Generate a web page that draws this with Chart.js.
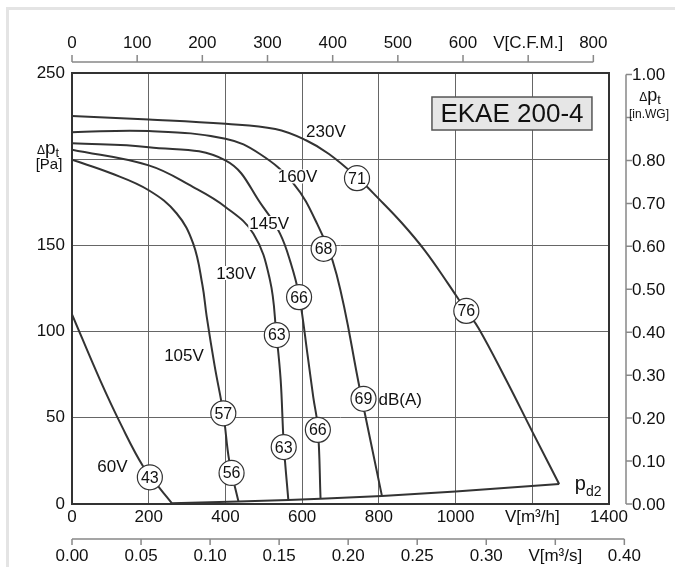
<!DOCTYPE html>
<html><head><meta charset="utf-8">
<script src="https://cdn.jsdelivr.net/npm/chart.js@4"></script>
<style>html,body{margin:0;padding:0;background:#fff;}#c{display:block;}</style>
</head><body>
<canvas id="c" width="675" height="567"></canvas>
<script>
// ---- data ----
const flow230 = [0,200,400,530,610,670,743,800,860,920,980,1028,1060,1133,1200,1270];
const dp230   = [225,223,220.5,217.5,211,203,189.5,177,163,147,128,112,102,71.5,42,11.6];
const flow160 = [0,200,400,490,577,638,690,751,808];
const dp160   = [215.7,216.3,211.9,203,186,163,133,66,4.7];
const flow145 = [0,200,400,499,542,570,592,615,629,641,648];
const dp145   = [209.3,207,199.3,172,157,140,121,85,62,44,3.0];
const flow130 = [0,200,316,400,473,516,533,544,552,564];
const dp130   = [205.5,196.4,183.8,172.3,156.8,130,98,72,35,2.3];
const flow105 = [0,100,200,273,316,340,351,372,394.5,410,434];
const dp105   = [199.7,192,182,168.5,151,127,109,80,52.6,25,1.4];
const flow60  = [0,73,130,186,229,260];
const dp60    = [110,72,45,21.6,9.1,0.5];
const flowPd2 = [260,434,564,648,808,1000,1270];
const dpPd2   = [0.5,1.4,2.3,3.0,4.7,7.2,11.6];

const dbFlow = [743,656,592,534,394.5,1028,760,641,552,416,203];
const dbDp   = [189,148,120,98,52.6,112,61,43,33,18,15.5];
const dbText = ['71','68','66','63','57','76','69','66','63','56','43'];

const voltText = ['230V','160V','145V','130V','105V','60V'];
const voltFlow = [662,588,514,427.5,292,105.5];
const voltDp   = [216,190,163,134,86.5,21.6];

const xTickValues   = [0,200,400,600,800,1000,1200,1400];
const yTickValues   = [0,50,100,150,200,250];
const cfmTicks      = [0,100,200,300,400,500,600,700,800];
const m3sTicks      = [0,0.05,0.10,0.15,0.20,0.25,0.30,0.35,0.40];
const inwgTicks     = [0,0.1,0.2,0.3,0.4,0.5,0.6,0.7,0.8,0.9,1.0];
const M3H_PER_CFM = 1.699;
const PA_PER_INWG = 249.09;
const M3H_PER_M3S = 3600;

// ---- helpers ----
const FONT = "'Liberation Sans', Arial, Helvetica, sans-serif";
const TXT = '#111';
const LINE = '#333';
const pts = (xs, ys) => xs.map((x, i) => ({x, y: ys[i]}));
const curve = (xs, ys) => ({
  data: pts(xs, ys), showLine: true, borderColor: LINE, borderWidth: 2,
  pointRadius: 0, tension: 0.4, fill: false, order: 1
});

function subText(ctx, x, y, parts, align) {
  let total = 0;
  parts.forEach(p => { ctx.font = p[1] + 'px ' + FONT; total += ctx.measureText(p[0]).width; });
  let cx = align === 'center' ? x - total / 2 : x;
  ctx.textAlign = 'left'; ctx.textBaseline = 'alphabetic';
  parts.forEach(p => { ctx.font = p[1] + 'px ' + FONT; ctx.fillText(p[0], cx, y + (p[2] || 0)); cx += ctx.measureText(p[0]).width; });
}

const deco = {
  id: 'deco',
  beforeDraw(chart) {
    const ctx = chart.ctx;
    ctx.save();
    ctx.fillStyle = '#fff'; ctx.fillRect(0, 0, chart.width, chart.height);
    ctx.fillStyle = '#e4e4e4';
    ctx.fillRect(6, 7, chart.width - 6, 3);
    ctx.fillRect(6, 7, 3, chart.height - 7);
    ctx.restore();
  },
  afterDatasetsDraw(chart) {
    const ctx = chart.ctx, xs = chart.scales.x, ys = chart.scales.y;
    ctx.save();
    ctx.font = '17px ' + FONT;
    voltText.forEach((t, i) => {
      const px = xs.getPixelForValue(voltFlow[i]), py = ys.getPixelForValue(voltDp[i]);
      const w = ctx.measureText(t).width;
      ctx.fillStyle = '#fff';
      ctx.fillRect(px - w / 2 - 1, py - 7, w + 2, 14);
      ctx.fillStyle = TXT; ctx.textAlign = 'center'; ctx.textBaseline = 'middle';
      ctx.fillText(t, px, py + 1);
    });
    const meta = chart.getDatasetMeta(0);
    ctx.font = '16px ' + FONT; ctx.fillStyle = TXT; ctx.textAlign = 'center'; ctx.textBaseline = 'middle';
    meta.data.forEach((el, i) => ctx.fillText(dbText[i], el.x, el.y + 1));
    ctx.textAlign = 'left';
    ctx.font = '17px ' + FONT;
    const e69 = meta.data[6];
    ctx.fillText('dB(A)', e69.x + 15, e69.y + 1);
    ctx.fillStyle = TXT;
    subText(ctx, xs.getPixelForValue(1311), ys.getPixelForValue(8), [['p', 20, 0], ['d2', 14, 6]], 'left');
    const bx = xs.getPixelForValue(1147), by = ys.getPixelForValue(226.5);
    ctx.font = '26px ' + FONT;
    const tw = ctx.measureText('EKAE 200-4').width;
    const bw = Math.max(tw + 10, 160), bh = 33;
    ctx.fillStyle = '#e6e6e6'; ctx.fillRect(bx - bw / 2, by - bh / 2, bw, bh);
    ctx.strokeStyle = '#555'; ctx.lineWidth = 1.5; ctx.strokeRect(bx - bw / 2, by - bh / 2, bw, bh);
    ctx.fillStyle = TXT; ctx.textAlign = 'center'; ctx.textBaseline = 'middle';
    ctx.fillText('EKAE 200-4', bx, by + 1);
    ctx.restore();
  },
  afterDraw(chart) {
    const ctx = chart.ctx, xs = chart.scales.x, ys = chart.scales.y, a = chart.chartArea;
    ctx.save();
    ctx.strokeStyle = LINE; ctx.lineWidth = 2;
    ctx.strokeRect(a.left, a.top, a.right - a.left, a.bottom - a.top);
    ctx.strokeStyle = '#888'; ctx.lineWidth = 1.5; ctx.fillStyle = TXT;
    // top CFM axis
    const yTop = 62;
    ctx.beginPath();
    ctx.moveTo(xs.getPixelForValue(0), yTop);
    ctx.lineTo(xs.getPixelForValue(800 * M3H_PER_CFM), yTop);
    cfmTicks.forEach(c => { const px = xs.getPixelForValue(c * M3H_PER_CFM); ctx.moveTo(px, yTop); ctx.lineTo(px, yTop - 7); });
    ctx.stroke();
    ctx.font = '17px ' + FONT; ctx.textAlign = 'center'; ctx.textBaseline = 'middle';
    cfmTicks.forEach(c => { const px = xs.getPixelForValue(c * M3H_PER_CFM); ctx.fillText(c === 700 ? 'V[C.F.M.]' : String(c), px, 43); });
    // bottom m3/s axis
    const yBot = 539;
    ctx.beginPath();
    ctx.moveTo(xs.getPixelForValue(0), yBot);
    ctx.lineTo(xs.getPixelForValue(0.40 * M3H_PER_M3S), yBot);
    m3sTicks.forEach(s => { const px = xs.getPixelForValue(s * M3H_PER_M3S); ctx.moveTo(px, yBot); ctx.lineTo(px, yBot + 6); });
    ctx.stroke();
    m3sTicks.forEach(s => { const px = xs.getPixelForValue(s * M3H_PER_M3S); ctx.fillText(Math.abs(s - 0.35) < 1e-9 ? 'V[m³/s]' : s.toFixed(2), px, 556); });
    // right in.WG axis
    const xR = 626;
    ctx.beginPath();
    ctx.moveTo(xR, ys.getPixelForValue(0));
    ctx.lineTo(xR, ys.getPixelForValue(1.0 * PA_PER_INWG));
    inwgTicks.forEach(w => { const py = ys.getPixelForValue(w * PA_PER_INWG); ctx.moveTo(xR, py); ctx.lineTo(xR + 6, py); });
    ctx.stroke();
    ctx.textAlign = 'left';
    inwgTicks.forEach(w => { if (Math.abs(w - 0.9) < 1e-9) return; const py = ys.getPixelForValue(w * PA_PER_INWG); ctx.fillText(w.toFixed(2), 632, py + 1); });
    subText(ctx, 650, 101, [['\u0394', 12, 0], ['p', 18, 0], ['t', 13, 3]], 'center');
    ctx.font = '12px ' + FONT; ctx.textAlign = 'center'; ctx.textBaseline = 'middle';
    ctx.fillText('[in.WG]', 649, 115);
    subText(ctx, 48, 154, [['\u0394', 12, 0], ['p', 19, 0], ['t', 13, 3]], 'center');
    ctx.font = '15px ' + FONT; ctx.textAlign = 'center'; ctx.textBaseline = 'middle';
    ctx.fillText('[Pa]', 49, 165);
    ctx.restore();
  }
};

new Chart(document.getElementById('c'), {
  type: 'scatter',
  data: {
    datasets: [
      { data: pts(dbFlow, dbDp), pointRadius: 12.5, pointBackgroundColor: '#fff', pointBorderColor: LINE,
        pointBorderWidth: 1.2, showLine: false, order: 0 },
      curve(flow230, dp230), curve(flow160, dp160), curve(flow145, dp145),
      curve(flow130, dp130), curve(flow105, dp105), curve(flow60, dp60),
      { data: pts(flowPd2, dpPd2), showLine: true, borderColor: LINE, borderWidth: 2, pointRadius: 0, tension: 0, order: 1 }
    ]
  },
  options: {
    responsive: false, animation: false, devicePixelRatio: 1,
    layout: { padding: { top: 73, right: 66, bottom: 0, left: 0 } },
    plugins: { legend: { display: false }, tooltip: { enabled: false } },
    scales: {
      x: {
        type: 'linear', min: 0, max: 1400,
        afterBuildTicks(s) { s.ticks = xTickValues.map(v => ({value: v})); },
        ticks: { color: TXT, font: { family: FONT, size: 17 }, padding: 3, maxRotation: 0, autoSkip: false,
          callback: v => v === 1200 ? 'V[m³/h]' : String(v) },
        grid: { color: '#666', lineWidth: 1, drawTicks: false },
        border: { display: false },
        afterFit(s) { s.height = 63; }
      },
      y: {
        type: 'linear', min: 0, max: 250,
        afterBuildTicks(s) { s.ticks = yTickValues.map(v => ({value: v})); },
        ticks: { color: TXT, font: { family: FONT, size: 17 }, padding: 7,
          callback: v => v === 200 ? '' : String(v) },
        grid: { color: '#666', lineWidth: 1, drawTicks: false },
        border: { display: false },
        afterFit(s) { s.width = 72; }
      }
    }
  },
  plugins: [deco]
});
</script>
</body></html>
